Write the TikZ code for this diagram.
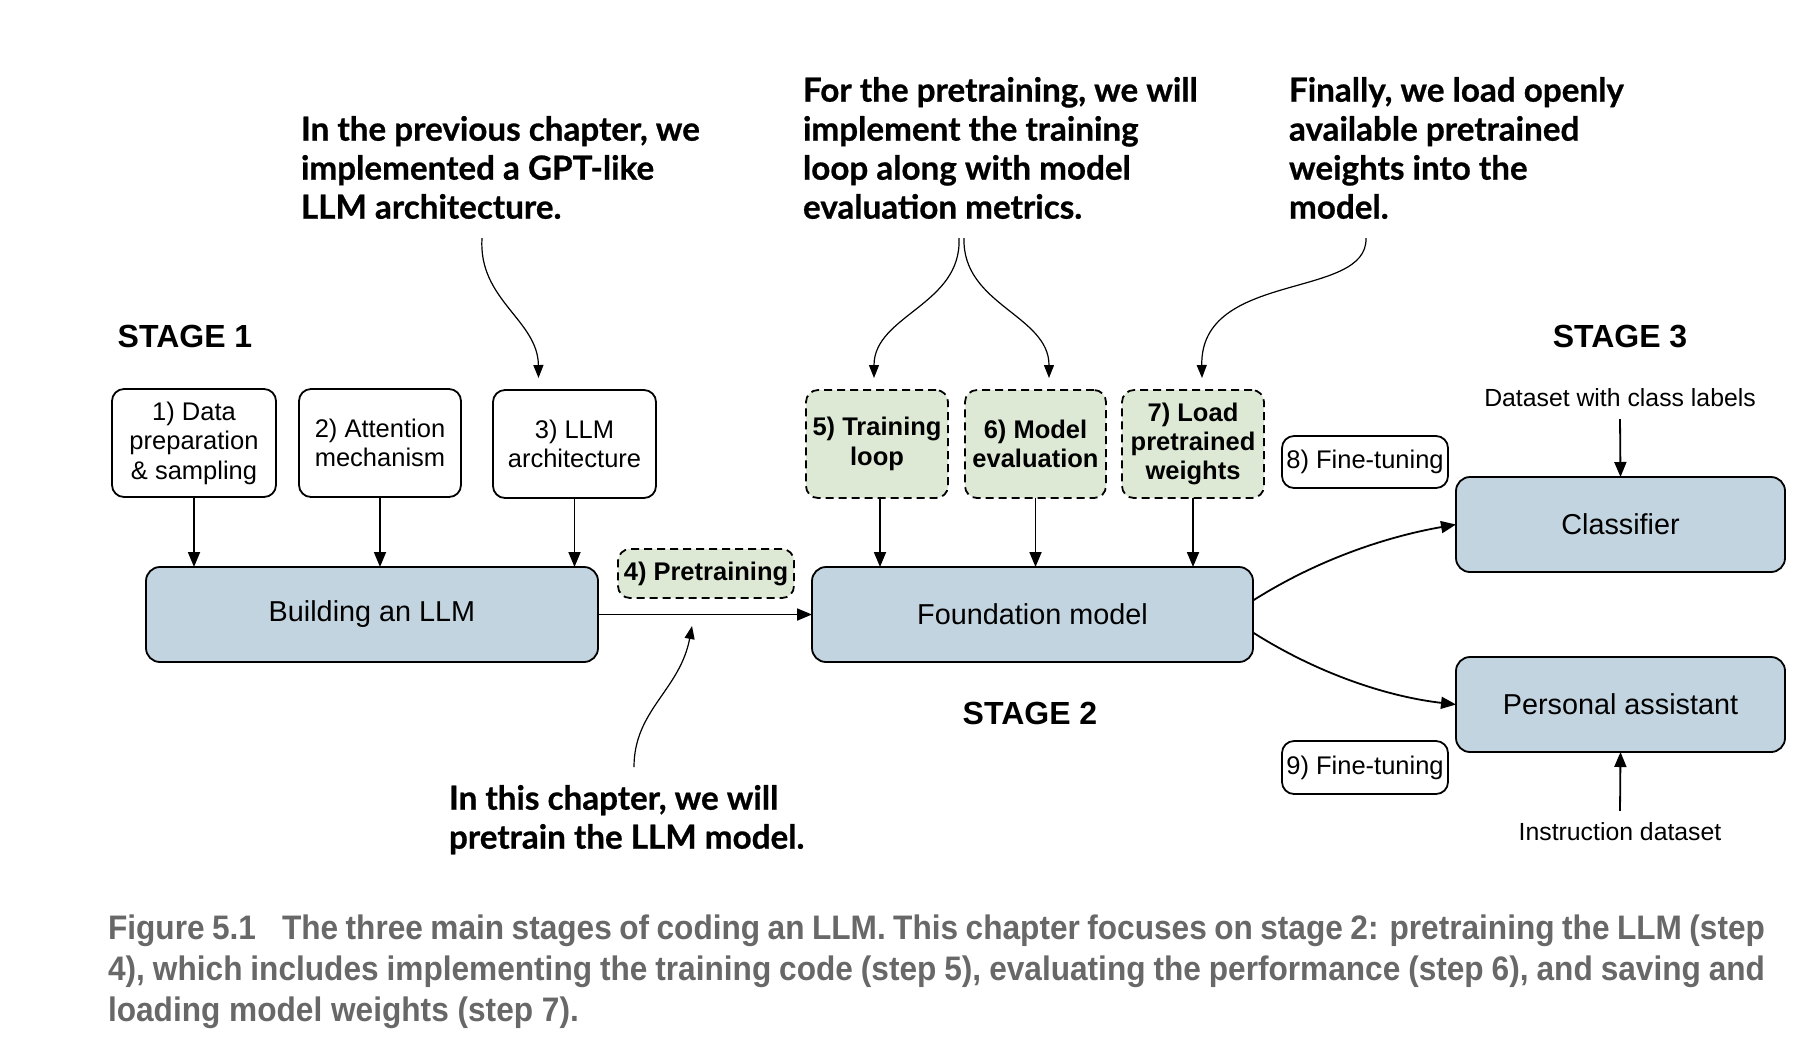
\documentclass[tikz,border=0pt]{standalone}
\usepackage{fontspec}
\setmainfont{Liberation Sans}
\newfontfamily\annfont[BoldFeatures={FakeBold=0.7}]{Lato}
\newfontfamily\capfont[FakeStretch=0.93]{Liberation Sans}
\usetikzlibrary{arrows.meta,calc}

\definecolor{boxblue}{RGB}{194,212,224}
\definecolor{boxgreen}{RGB}{221,233,213}
\definecolor{capgray}{RGB}{104,104,104}

\begin{document}
\begin{tikzpicture}[x=0.5pt,y=-0.5pt,
  every node/.style={inner sep=0pt, outer sep=0pt},
  arr/.style={-{Triangle[length=7.5pt,width=6pt]}, line width=0.9pt},
  thinarr/.style={-{Triangle[length=6.5pt,width=5pt]}, line width=0.6pt},
  stepbox/.style={draw, line width=0.9pt, rounded corners=6pt, fill=white,
    align=center, font=\fontsize{12.75}{14.7}\selectfont},
  greenbox/.style={stepbox, fill=boxgreen, dash pattern=on 4pt off 2.5pt,
    font=\fontsize{12.75}{14.7}\selectfont\bfseries},
  bigbox/.style={draw, line width=0.9pt, rounded corners=7pt, fill=boxblue,
    minimum height=47.5pt, font=\fontsize{14.4}{16}\selectfont},
  stagelbl/.style={font=\fontsize{16}{19}\selectfont\bfseries},
  plain/.style={font=\fontsize{12.4}{14}\selectfont},
  note/.style={anchor=north west, align=left,
    font={\annfont\bfseries\fontsize{16.6}{19.5}\selectfont}},
]
\useasboundingbox (0,0) rectangle (1808,1062);
\fill[white] (0,0) rectangle (1808,1062);

% stage titles
\node[stagelbl] (st1) at (185,336) {STAGE 1};
\node[stagelbl] (st2) at (1030,713) {STAGE 2};
\node[stagelbl] (st3) at (1620,336) {STAGE 3};

% stage 1
\node[stepbox, minimum width=82pt, minimum height=54pt] (s1) at (194,443) {1) Data\\preparation\\\& sampling};
\node[stepbox, minimum width=81pt, minimum height=54pt] (s2) at (380,443) {2) Attention\\mechanism};
\node[stepbox, minimum width=81.5pt, minimum height=54pt] (s3) at (574.5,444) {3) LLM\\architecture};
\node[bigbox, minimum width=226pt] (build) at (372,614.5) {Building an LLM};

\draw[arr] (s1.south) -- (s1.south |- build.north);
\draw[arr] (s2.south) -- (s2.south |- build.north);
\draw[arr] (s3.south) -- (s3.south |- build.north);

% stage 2
\node[greenbox, minimum width=88pt, minimum height=24.5pt] (s4) at (706,573.5) {4) Pretraining};
\node[bigbox, minimum width=220.5pt] (found) at (1032.5,614.5) {Foundation model};
\node[greenbox, minimum width=71pt, minimum height=54pt] (s5) at (877,444) {5) Training\\loop};
\node[greenbox, minimum width=70.5pt, minimum height=54pt] (s6) at (1035.5,444) {6) Model\\evaluation};
\node[greenbox, minimum width=71pt, minimum height=54pt] (s7) at (1193,444) {7) Load\\pretrained\\weights};

\coordinate (s5out) at ($(s5.south)+(3,0)$);
\draw[arr] (build.east) -- (found.west);
\draw[arr] (s5out) -- (s5out |- found.north);
\draw[arr] (s6.south) -- (s6.south |- found.north);
\draw[arr] (s7.south) -- (s7.south |- found.north);

% stage 3
\node[stepbox, minimum width=83pt, minimum height=26pt] (s8) at (1365,462) {8) Fine-tuning};
\node[stepbox, minimum width=83pt, minimum height=26.5pt] (s9) at (1365,767.5) {9) Fine-tuning};
\node[bigbox, minimum width=164.5pt] (clf) at (1620.5,524.5) {Classifier};
\node[bigbox, minimum width=164.5pt] (pa) at (1620.5,704.5) {Personal assistant};
\node[plain] (dcl) at (1620,398) {Dataset with class labels};
\node[plain] (ids) at (1620,832) {Instruction dataset};

\draw[arr] ($(dcl.south)+(0,12)$) -- (clf.north);
\draw[arr] ($(ids.north)+(0,-12)$) -- (pa.south);
\draw[arr] ($(found.east)+(0,-14)$) .. controls (1320,558) and (1390,536) .. (clf.west);
\draw[arr] ($(found.east)+(0,18)$) .. controls (1320,675) and (1390,697) .. (pa.west);

% callouts
\node[note] (n1) at (301,116) {In the previous chapter, we\\implemented a GPT-like\\LLM architecture.};
\node[note] (n2) at (803,77) {For the pretraining, we will\\implement the training\\loop along with model\\evaluation metrics.};
\node[note] (n3) at (1289,77) {Finally, we load openly\\available pretrained\\weights into the\\model.};
\node[note] (n4) at (449,785) {In this chapter, we will\\pretrain the LLM model.};

\coordinate (t1) at (482,238);
\coordinate (t2a) at (959,238);
\coordinate (t2b) at (964,238);
\coordinate (t3) at (1366,238);
\coordinate (t4) at (634,767);

\draw[thinarr] (t1) .. controls (478,300) and (538,320) .. ($(s3.north)+(-36,-12)$);
\draw[thinarr] (t2a) .. controls (962,305) and (874,315) .. ($(s5.north)+(-3,-12)$);
\draw[thinarr] (t2b) .. controls (962,305) and (1049,315) .. ($(s6.north)+(13.5,-12)$);
\draw[thinarr] (t3) .. controls (1368,300) and (1200,270) .. ($(s7.north)+(9,-12)$);
\draw[thinarr] (t4) .. controls (634,710) and (680,690) .. ($(s4.south)+(-14,28)$);

% caption (the base anchor sits on the last line)
\node[anchor=base west, align=left, text=capgray,
  font={\capfont\bfseries\fontsize{17}{20.5}\selectfont}] (cap) at (108,1021)
  {\makebox[828.5pt][s]{Figure 5.1\hspace{13pt}The three main stages of coding an LLM. This chapter focuses on stage 2: pretraining the LLM (step}\\
   \makebox[828.5pt][s]{4), which includes implementing the training code (step 5), evaluating the performance (step 6), and saving and}\\
   loading model weights (step 7).};
\end{tikzpicture}
\end{document}
